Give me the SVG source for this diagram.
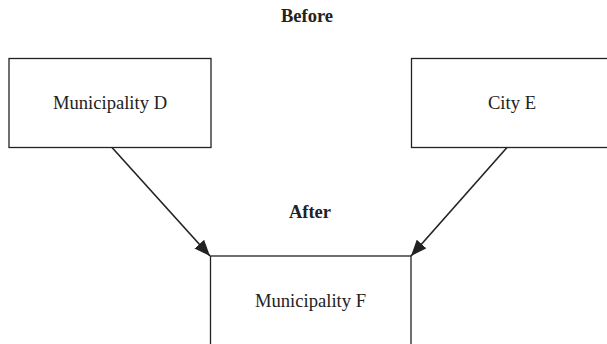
<svg xmlns="http://www.w3.org/2000/svg" width="607" height="344" viewBox="0 0 607 344">
<defs>
<style>
.box{fill:#fff;stroke:#222;stroke-width:1.3}
.lbl{font-family:"Liberation Serif","Times New Roman",serif;font-size:18.6px;fill:#222;text-anchor:middle}
.hdr{font-family:"Liberation Serif","Times New Roman",serif;font-size:18.5px;font-weight:bold;fill:#222;text-anchor:middle}
.conn{stroke:#222;stroke-width:1.6;fill:none}
</style>
<marker id="arr" markerUnits="userSpaceOnUse" markerWidth="18" markerHeight="14" refX="16" refY="6.5" orient="auto">
<path d="M0,0 L16,6.5 L0,13 Z" fill="#222"/>
</marker>
</defs>
<rect width="607" height="344" fill="#fff"/>
<text class="hdr" x="307" y="22">Before</text>
<text class="hdr" x="310" y="218">After</text>
<g id="node-d">
<rect class="box" x="9" y="58.5" width="202" height="89"/>
<text class="lbl" x="110" y="109">Municipality D</text>
</g>
<g id="node-e">
<rect class="box" x="411.5" y="58.5" width="202" height="89"/>
<text class="lbl" x="512" y="109">City E</text>
</g>
<g id="node-f">
<rect class="box" x="210.5" y="256" width="200.5" height="100"/>
<text class="lbl" x="310.5" y="307">Municipality F</text>
</g>
<g id="connectors">
<line class="conn" x1="112" y1="147.5" x2="210" y2="256" marker-end="url(#arr)"/>
<line class="conn" x1="507" y1="147.5" x2="411" y2="256" marker-end="url(#arr)"/>
</g>
</svg>
